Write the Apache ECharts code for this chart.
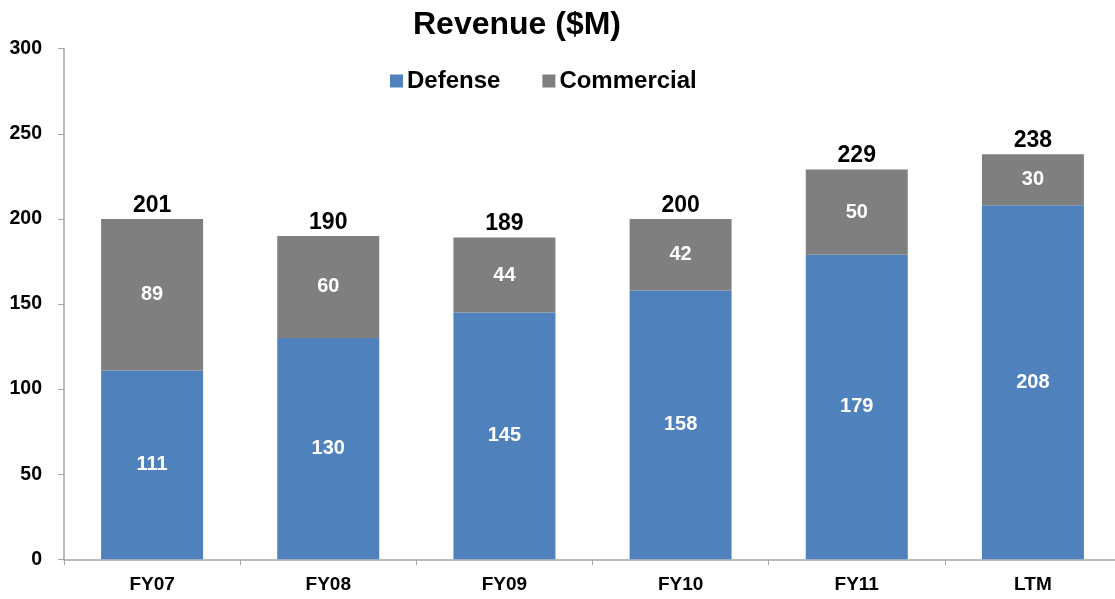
<!DOCTYPE html>
<html>
<head>
<meta charset="utf-8">
<title>Revenue ($M)</title>
<script src="https://cdn.jsdelivr.net/npm/echarts@6/dist/echarts.min.js"></script>
<style>
  html, body { margin: 0; padding: 0; background: #fff; }
  #chart { width: 1115px; height: 599px; }
</style>
</head>
<body>
<div id="chart"></div>
<script>
  var categories = ['FY07', 'FY08', 'FY09', 'FY10', 'FY11', 'LTM'];
  var defense = [111, 130, 145, 158, 179, 208];
  var commercial = [89, 60, 44, 42, 50, 30];
  var totals = [201, 190, 189, 200, 229, 238];
  var yTicks = [0, 50, 100, 150, 200, 250, 300];

  var font = '"Liberation Sans", Arial, sans-serif';

  var myChart = echarts.init(document.getElementById('chart'));
  var option = {
    animation: false,
    title: {
      text: 'Revenue ($M)',
      left: 512,
      textAlign: 'center',
      top: 4,
      textStyle: { fontFamily: font, fontSize: 32, fontWeight: 'bold', color: '#000' }
    },
    legend: {
      data: ['Defense', 'Commercial'],
      left: 385,
      top: 64,
      itemWidth: 13,
      itemHeight: 13,
      itemGap: 42,
      icon: 'rect',
      textStyle: { fontFamily: font, fontSize: 24, fontWeight: 'bold', color: '#000', padding: [0, 0, 0, -1] }
    },
    grid: { left: 64, top: 48.7, width: 1057, bottom: 39.7, outerBoundsMode: 'none' },
    xAxis: {
      type: 'category',
      data: categories,
      axisLine: { lineStyle: { color: '#a6a6a6', width: 1.5 } },
      axisTick: { show: true, length: 6, lineStyle: { color: '#a6a6a6' } },
      axisLabel: { margin: 16, fontFamily: font, fontSize: 19, fontWeight: 'bold', color: '#000' }
    },
    yAxis: {
      type: 'value',
      min: yTicks[0],
      max: yTicks[yTicks.length - 1],
      interval: 50,
      axisLine: { show: true, lineStyle: { color: '#a6a6a6', width: 1.5 } },
      axisTick: { show: true, inside: false, length: 6, lineStyle: { color: '#a6a6a6' } },
      splitLine: { show: false },
      axisLabel: { margin: 22, fontFamily: font, fontSize: 19.5, fontWeight: 'bold', color: '#000' }
    },
    series: [
      {
        name: 'Defense',
        type: 'bar',
        stack: 'rev',
        barWidth: 102,
        data: defense,
        itemStyle: { color: '#4f81bd' },
        label: { show: true, position: 'inside', fontFamily: font, fontSize: 20, fontWeight: 'bold', color: '#fff' }
      },
      {
        name: 'Commercial',
        type: 'bar',
        stack: 'rev',
        barWidth: 102,
        data: commercial,
        itemStyle: { color: '#7f7f7f' },
        label: { show: true, position: 'inside', fontFamily: font, fontSize: 20, fontWeight: 'bold', color: '#fff' }
      },
      {
        name: 'Total',
        type: 'bar',
        stack: 'rev',
        barWidth: 102,
        data: totals.map(function () { return 0; }),
        itemStyle: { color: 'transparent' },
        label: {
          show: true,
          position: 'top',
          distance: 2,
          fontFamily: font,
          fontSize: 23,
          fontWeight: 'bold',
          color: '#000',
          formatter: function (p) { return totals[p.dataIndex]; }
        }
      }
    ]
  };
  myChart.setOption(option);
</script>
</body>
</html>
